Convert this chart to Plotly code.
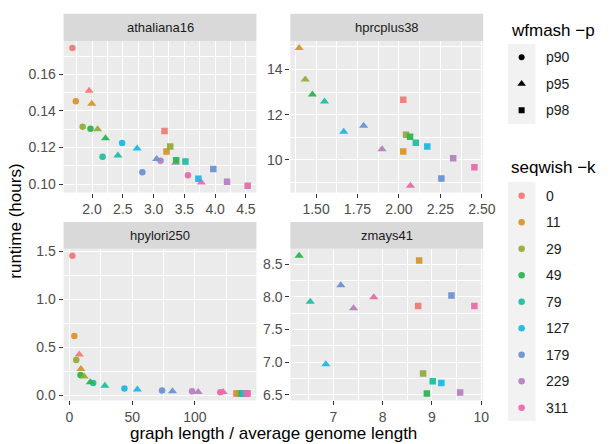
import plotly.graph_objects as go

k_values = [0, 11, 29, 49, 79, 127, 179, 229, 311]
k_colors = ["#F27B77", "#D8962B", "#95AB3B", "#2DB450", "#20BFA0",
            "#1DB8E6", "#6C93D2", "#B67FC0", "#E86BAA"]
p_values = ["p90", "p95", "p98"]
p_symbols = {"p90": "circle", "p95": "triangle-up", "p98": "square"}
p_sizes = {"p90": 6.5, "p95": 8, "p98": 6.5}

panels = ["athaliana16", "hprcplus38", "hpylori250", "zmays41"]

# values aligned with k_values (None = not present)
athaliana16_p90_x = [1.68, 1.736, 1.847, 1.974, 2.17, 2.488, 2.817, 3.113, 3.558]
athaliana16_p90_y = [0.1745, 0.1453, 0.1314, 0.1303, 0.1149, 0.1224, 0.1064, 0.1128, 0.1048]
athaliana16_p95_x = [1.952, 1.995, 2.09, 2.218, 2.42, 2.732, 3.05, 3.357, 3.776]
athaliana16_p95_y = [0.151, 0.144, 0.130, 0.125, 0.1156, 0.1194, 0.1137, 0.1117, 0.1009]
athaliana16_p98_x = [3.177, 3.21, 3.27, 3.367, 3.517, 3.728, 3.97, 4.194, 4.528]
athaliana16_p98_y = [0.129, 0.1178, 0.1206, 0.113, 0.1124, 0.1029, 0.1082, 0.1013, 0.0991]

hprcplus38_p90_x = [None] * 9
hprcplus38_p90_y = [None] * 9
hprcplus38_p95_x = [None, 1.398, 1.435, 1.478, 1.551, 1.667, 1.787, 1.898, 2.069]
hprcplus38_p95_y = [None, 14.95, 13.55, 12.89, 12.58, 11.24, 11.51, 10.47, 8.86]
hprcplus38_p98_x = [2.026, 2.026, 2.043, 2.067, 2.102, 2.171, 2.256, 2.327, 2.455]
hprcplus38_p98_y = [12.66, 10.37, 11.11, 11.02, 10.76, 10.59, 9.18, 10.07, 9.68]

hpylori250_p90_x = [2.33, 3.9, 5.4, 8.8, 18.9, 43.8, 73.8, 97.7, 120.2]
hpylori250_p90_y = [1.456, 0.619, 0.367, 0.211, 0.129, 0.071, 0.051, 0.041, 0.031]
hpylori250_p95_x = [7.8, 9.1, 11.7, 16.6, 28.2, 54.1, 82.1, 102.6, 122.5]
hpylori250_p95_y = [0.425, 0.275, 0.197, 0.136, 0.099, 0.061, 0.041, 0.034, 0.034]
hpylori250_p98_x = [133.0, 134.0, 136.0, 137.5, 138.5, 139.5, 140.5, 141.2, 142.0]
hpylori250_p98_y = [0.018, 0.018, 0.018, 0.018, 0.018, 0.018, 0.018, 0.018, 0.018]

zmays41_p90_x = [None] * 9
zmays41_p90_y = [None] * 9
zmays41_p95_x = [None, None, None, 6.306, 6.531, 6.848, 7.152, 7.41, 7.82]
zmays41_p95_y = [None, None, None, 8.629, 7.926, 6.97, 8.178, 7.827, 7.995]
zmays41_p98_x = [8.72, 8.74, 8.82, 8.896, 9.015, 9.19, 9.395, 9.57, 9.86]
zmays41_p98_y = [7.861, 8.554, 6.827, 6.52, 6.708, 6.683, 8.02, 6.535, 7.861]

data = {
    "athaliana16": {"p90": (athaliana16_p90_x, athaliana16_p90_y),
                    "p95": (athaliana16_p95_x, athaliana16_p95_y),
                    "p98": (athaliana16_p98_x, athaliana16_p98_y)},
    "hprcplus38": {"p90": (hprcplus38_p90_x, hprcplus38_p90_y),
                   "p95": (hprcplus38_p95_x, hprcplus38_p95_y),
                   "p98": (hprcplus38_p98_x, hprcplus38_p98_y)},
    "hpylori250": {"p90": (hpylori250_p90_x, hpylori250_p90_y),
                   "p95": (hpylori250_p95_x, hpylori250_p95_y),
                   "p98": (hpylori250_p98_x, hpylori250_p98_y)},
    "zmays41": {"p90": (zmays41_p90_x, zmays41_p90_y),
                "p95": (zmays41_p95_x, zmays41_p95_y),
                "p98": (zmays41_p98_x, zmays41_p98_y)},
}

# tick settings per panel: (x dtick, x tick0, y dtick, y tick0)
ticks = {
    "athaliana16": (0.5, 0, 0.02, 0),
    "hprcplus38": (0.25, 0, 2, 0),
    "hpylori250": (50, 0, 0.5, 0),
    "zmays41": (1, 0, 0.5, 0),
}
xfmt = {"athaliana16": ".1f", "hprcplus38": ".2f", "hpylori250": "d", "zmays41": "d"}
yfmt = {"athaliana16": ".2f", "hprcplus38": "d", "hpylori250": ".1f", "zmays41": ".1f"}

W, H = 609, 444
FONT = "Liberation Sans, Arial, sans-serif"
col_px = [(65, 262), (296.7, 493.7)]
row_px = [(36.7, 191), (248.3, 402.7)]
strip_px = [(9, 36.7), (221, 248.3)]

fig = go.Figure()
layout = dict(width=W, height=H, autosize=False, margin=dict(l=0, r=0, t=0, b=0),
              paper_bgcolor="white", plot_bgcolor="#EBEBEB",
              font=dict(family=FONT, color="#1A1A1A"), shapes=[], annotations=[])

def rng(vals):
    v = [a for a in vals if a is not None]
    lo, hi = min(v), max(v)
    s = hi - lo
    return [lo - 0.05 * s, hi + 0.05 * s]

for i, name in enumerate(panels):
    r, c = divmod(i, 2)
    ax = "" if i == 0 else str(i + 1)
    allx, ally = [], []
    for p in p_values:
        xs, ys = data[name][p]
        allx += xs
        ally += ys
        px_, py_, pc = [], [], []
        for k, xv, yv, col in zip(k_values, xs, ys, k_colors):
            if xv is None:
                continue
            px_.append(xv); py_.append(yv); pc.append(col)
        if not px_:
            continue
        fig.add_trace(go.Scatter(
            x=px_, y=py_, mode="markers", xaxis="x" + ax, yaxis="y" + ax,
            marker=dict(symbol=p_symbols[p], size=p_sizes[p], color=pc,
                        opacity=0.95, line=dict(width=0)),
            showlegend=False, hoverinfo="x+y"))
    xd, x0, yd, y0 = ticks[name]
    x0p, x1p = col_px[c]
    y0p, y1p = row_px[r]
    common = dict(showgrid=True, gridcolor="white", gridwidth=1.1, zeroline=False,
                  ticks="outside", ticklen=4, tickwidth=1, tickcolor="#333333",
                  tickfont=dict(size=14, color="#4D4D4D", family=FONT),
                  showline=False)
    layout["xaxis" + ax] = dict(common, domain=[x0p / W, x1p / W], anchor="y" + ax,
                                range=rng(allx), dtick=xd, tick0=x0, tickformat=xfmt[name],
                                minor=dict(showgrid=True, gridcolor="white", gridwidth=0.5,
                                           dtick=xd / 2, tick0=x0, ticks=""))
    layout["yaxis" + ax] = dict(common, domain=[1 - y1p / H, 1 - y0p / H], anchor="x" + ax,
                                range=rng(ally), dtick=yd, tick0=y0, tickformat=yfmt[name],
                                minor=dict(showgrid=True, gridcolor="white", gridwidth=0.5,
                                           dtick=yd / 2, tick0=y0, ticks=""))
    s0, s1 = strip_px[r]
    layout["shapes"].append(dict(type="rect", xref="paper", yref="paper",
                                 x0=x0p / W, x1=x1p / W, y0=1 - s1 / H, y1=1 - s0 / H,
                                 fillcolor="#D9D9D9", line=dict(width=0), layer="below"))
    layout["annotations"].append(dict(text=name, xref="paper", yref="paper",
                                      x=(x0p + x1p) / 2 / W, y=1 - (s0 + s1) / 2 / H,
                                      showarrow=False, xanchor="center", yanchor="middle",
                                      font=dict(size=13, color="#1A1A1A", family=FONT)))

# axis titles
layout["annotations"].append(dict(text="graph length / average genome length",
                                  xref="paper", yref="paper", x=279.5 / W, y=1 - 436 / H,
                                  showarrow=False, xanchor="center", yanchor="middle",
                                  font=dict(size=17, color="#000000", family=FONT)))
layout["annotations"].append(dict(text="runtime (hours)", textangle=-90,
                                  xref="paper", yref="paper", x=15 / W, y=1 - 220 / H,
                                  showarrow=False, xanchor="center", yanchor="middle",
                                  font=dict(size=17, color="#000000", family=FONT)))

# ---- legends, drawn as two small keyed subplots ----
KEY = 27.0  # px per legend row
leg_x = (519, 547)
legends = [
    dict(title="wfmash −p", title_y=25.7, top=53.3, labels=p_values,
         symbols=[p_symbols[p] for p in p_values], colors=["black"] * 3,
         sizes=[6, 7.5, 6], opacity=1.0, ax="5"),
    dict(title="seqwish −k", title_y=165.5, top=194.2, labels=[str(k) for k in k_values],
         symbols=["circle"] * len(k_values), colors=k_colors,
         sizes=[6.5] * len(k_values), opacity=0.95, ax="6"),
]
for lg in legends:
    n = len(lg["labels"])
    top_px = lg["top"] - KEY / 2
    bot_px = lg["top"] + (n - 0.5) * KEY
    ax = lg["ax"]
    rows = list(range(n))
    fig.add_trace(go.Scatter(
        x=[0] * n, y=rows, mode="markers", xaxis="x" + ax, yaxis="y" + ax,
        marker=dict(symbol=lg["symbols"], size=lg["sizes"], color=lg["colors"],
                    opacity=lg["opacity"], line=dict(width=0)),
        showlegend=False, hoverinfo="skip"))
    hidden = dict(showgrid=False, zeroline=False, showticklabels=False, ticks="",
                  showline=False, fixedrange=True)
    layout["xaxis" + ax] = dict(hidden, domain=[leg_x[0] / W, leg_x[1] / W],
                                anchor="y" + ax, range=[-1, 1])
    layout["yaxis" + ax] = dict(hidden, domain=[1 - bot_px / H, 1 - top_px / H],
                                anchor="x" + ax, range=[n - 0.5, -0.5])
    layout["shapes"].append(dict(type="rect", xref="x" + ax, yref="y" + ax,
                                 x0=-1, x1=1, y0=-0.5, y1=n - 0.5,
                                 fillcolor="#F2F2F2", line=dict(width=0), layer="below"))
    for j, lab in enumerate(lg["labels"]):
        layout["annotations"].append(dict(text=lab, xref="x" + ax, yref="y" + ax,
                                          x=0, y=j, xshift=22.5, showarrow=False,
                                          xanchor="left", yanchor="middle",
                                          font=dict(size=14, color="#1A1A1A", family=FONT)))
    layout["annotations"].append(dict(text=lg["title"], xref="paper", yref="paper",
                                      x=520 / W, y=1 - lg["title_y"] / H, showarrow=False,
                                      xanchor="left", yanchor="middle",
                                      font=dict(size=17, color="#000000", family=FONT)))

fig.update_layout(**layout)
fig.write_html("out.html", config={"displayModeBar": False},
               post_script="document.body.style.margin='0';document.body.style.overflow='hidden';")
